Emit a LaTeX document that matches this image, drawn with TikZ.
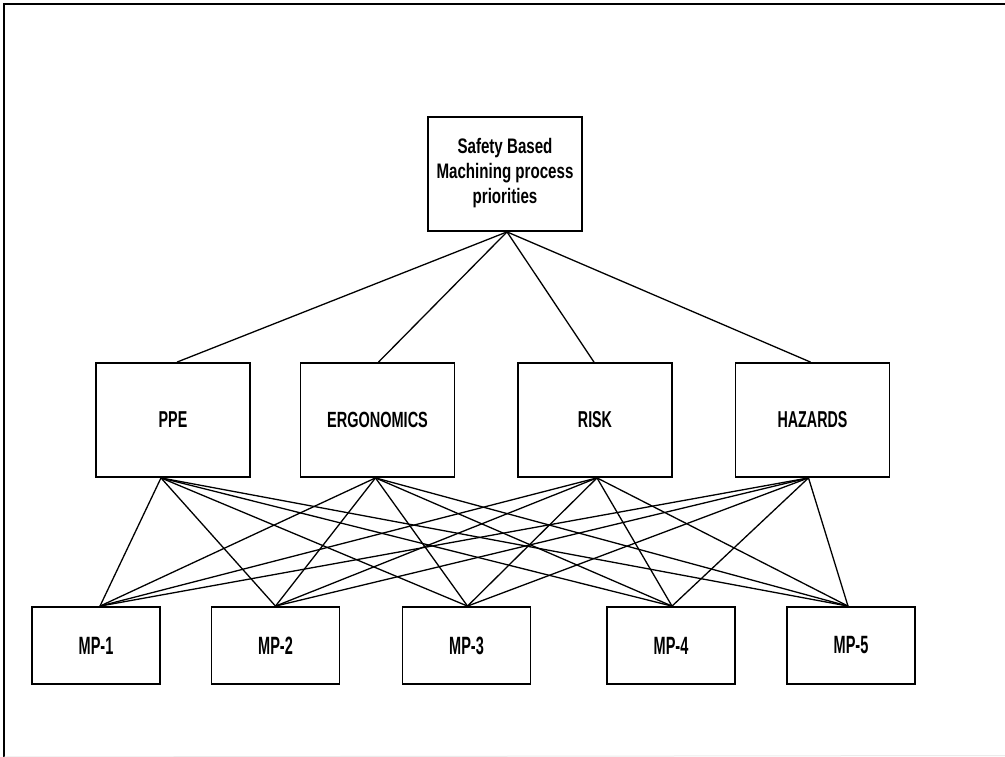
\documentclass[tikz,border=0pt]{standalone}
\usepackage{fontspec}
\setmainfont{Liberation Sans}
\usepackage{graphicx}
\newcommand\sqz[3]{\scalebox{#1}[1]{\fontsize{#2}{#2}\selectfont\bfseries #3}}
\begin{document}
\begin{tikzpicture}[x=1pt,y=-1pt,
  boxst/.style={draw=black,line width=1.8pt,minimum width=154pt,minimum height=114pt,inner sep=0pt},
  mpst/.style={draw=black,line width=1.8pt,minimum width=128pt,minimum height=77pt,inner sep=0pt},
  topst/.style={draw=black,line width=1.8pt,minimum width=154pt,minimum height=114pt,inner sep=0pt},
  link/.style={draw=black,line width=1.3pt}]
\useasboundingbox (0,0) rectangle (1005,757);
% frame
\coordinate (f1) at (4,4);
\coordinate (f2) at (1005,4);
\coordinate (f3) at (4,757);
\coordinate (f4) at (1005,755.5);
\draw[line width=2pt] (f2) -- (f1) -- (f3);
\draw[line width=1pt,black!8] (f3) -- (f4);
% top
\node[topst] (top) at (505,174) {\scalebox{0.72}[1]{\fontsize{21}{25}\selectfont\bfseries\begin{tabular}{@{}c@{}}Safety Based\\Machining process\\priorities\end{tabular}}};
% middle
\node[boxst] (ppe) at (173,420) {\sqz{0.62}{23}{PPE}};
\node[boxst] (erg) at (377.5,420) {\sqz{0.66}{22}{ERGONOMICS}};
\node[boxst] (risk) at (595,420) {\sqz{0.62}{23}{RISK}};
\node[boxst] (haz) at (812.5,420) {\sqz{0.62}{23}{HAZARDS}};
% bottom
\node[mpst] (m1) at (96,645.5) {\sqz{0.58}{25}{MP-1}};
\node[mpst] (m2) at (275.5,645.5) {\sqz{0.58}{25}{MP-2}};
\node[mpst] (m3) at (466.5,645.5) {\sqz{0.58}{25}{MP-3}};
\node[mpst] (m4) at (671,645.5) {\sqz{0.58}{25}{MP-4}};
\node[mpst] (m5) at (851,645.5) {\sqz{0.58}{25}{MP-5}};
% top links
\coordinate (ts) at ([xshift=2pt]top.south);
\draw[link] (ts) -- ([xshift=4pt]ppe.north);
\draw[link] (ts) -- ([xshift=1pt]erg.north);
\draw[link] (ts) -- ([xshift=-1pt]risk.north);
\draw[link] (ts) -- ([xshift=-2pt]haz.north);
% middle to bottom
\coordinate (ps) at ([xshift=-12pt]ppe.south);
\coordinate (es) at ([xshift=-2pt]erg.south);
\coordinate (rs) at ([xshift=2pt]risk.south);
\coordinate (hs) at ([xshift=-4pt]haz.south);
\coordinate (b1) at ([xshift=4pt]m1.north);
\coordinate (b2) at (m2.north);
\coordinate (b3) at ([xshift=1pt]m3.north);
\coordinate (b4) at ([xshift=1pt]m4.north);
\coordinate (b5) at ([xshift=-3pt]m5.north);
\foreach \s in {ps,es,rs,hs}{
  \foreach \b in {b1,b2,b3,b4,b5}{
    \draw[link] (\s) -- (\b);
  }
}
\end{tikzpicture}
\end{document}
